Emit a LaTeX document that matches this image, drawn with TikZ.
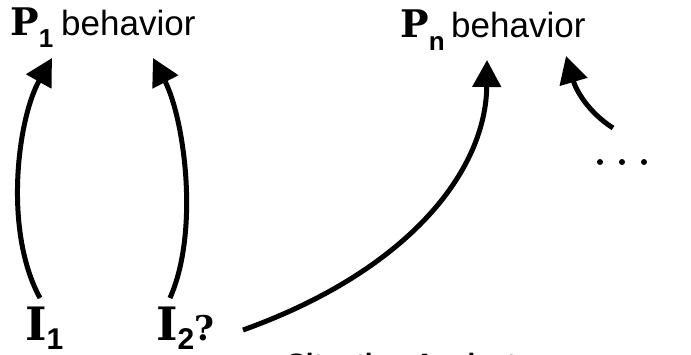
\documentclass[tikz,border=0pt]{standalone}
\usepackage{fontspec}
\setmainfont{Liberation Sans}
\newfontfamily\slab{DejaVu Serif}
\usetikzlibrary{arrows.meta}
\begin{document}
\begin{tikzpicture}[x=1pt,y=-1pt,
  lbl/.style={inner sep=0pt,anchor=base west},
  conn/.style={line width=5pt,-{Triangle[length=27pt,width=28pt]}},
  dotmark/.style={circle,fill=black,inner sep=0pt,minimum size=6pt}]
\useasboundingbox (0,0) rectangle (691,354);
% top labels
\node[lbl] (p1) at (10,35) {\fontsize{38}{38}\selectfont\slab\bfseries P\raisebox{-12pt}{\fontsize{26}{26}\selectfont\rmfamily\bfseries 1}};
\node[lbl] (b1) at (61,35) {\fontsize{35}{35}\selectfont behavior};
\node[lbl] (pn) at (400,37) {\fontsize{38}{38}\selectfont\slab\bfseries P\raisebox{-13pt}{\fontsize{26}{26}\selectfont\rmfamily\bfseries n}};
\node[lbl] (bn) at (451,37) {\fontsize{35}{35}\selectfont behavior};
% bottom labels
\node[lbl] (i1) at (25,340) {\fontsize{46}{46}\selectfont\slab\bfseries I\raisebox{-9pt}{\fontsize{30}{30}\selectfont\rmfamily\bfseries 1}};
\node[lbl] (i2) at (156,340) {\fontsize{46}{46}\selectfont\slab\bfseries I\raisebox{-9pt}{\fontsize{30}{30}\selectfont\rmfamily\bfseries 2}\fontsize{34}{34}\selectfont ?};
\node[lbl] (sa) at (287,373) {\fontsize{28}{28}\selectfont\bfseries Situation Analyst:};
\node[lbl] (q) at (548,373) {\fontsize{24}{24}\selectfont Is \textbf{P}\raisebox{-5pt}{\fontsize{15}{15}\selectfont\bfseries n} behavior};
% dots
\node[dotmark] (d1) at (600,162) {};
\node[dotmark] (d2) at (622,162) {};
\node[dotmark] (d3) at (644,162) {};
% connector endpoints
\coordinate (s1) at (40,298);
\coordinate (t1) at (52,58);
\coordinate (s2) at (170,298);
\coordinate (t2) at (153,58);
\coordinate (s3) at (243,330);
\coordinate (t3) at (487,60);
\coordinate (s4) at (613,128);
\coordinate (t4) at (566,56);
\draw[conn] (s1) .. controls (3,230) and (18,118) .. (t1);
\draw[conn] (s2) .. controls (200,230) and (184,118) .. (t2);
\draw[conn] (s3) .. controls (410,270) and (486,170) .. (t3);
\draw[conn] (s4) .. controls (588,112) and (576,90) .. (t4);
\end{tikzpicture}
\end{document}
